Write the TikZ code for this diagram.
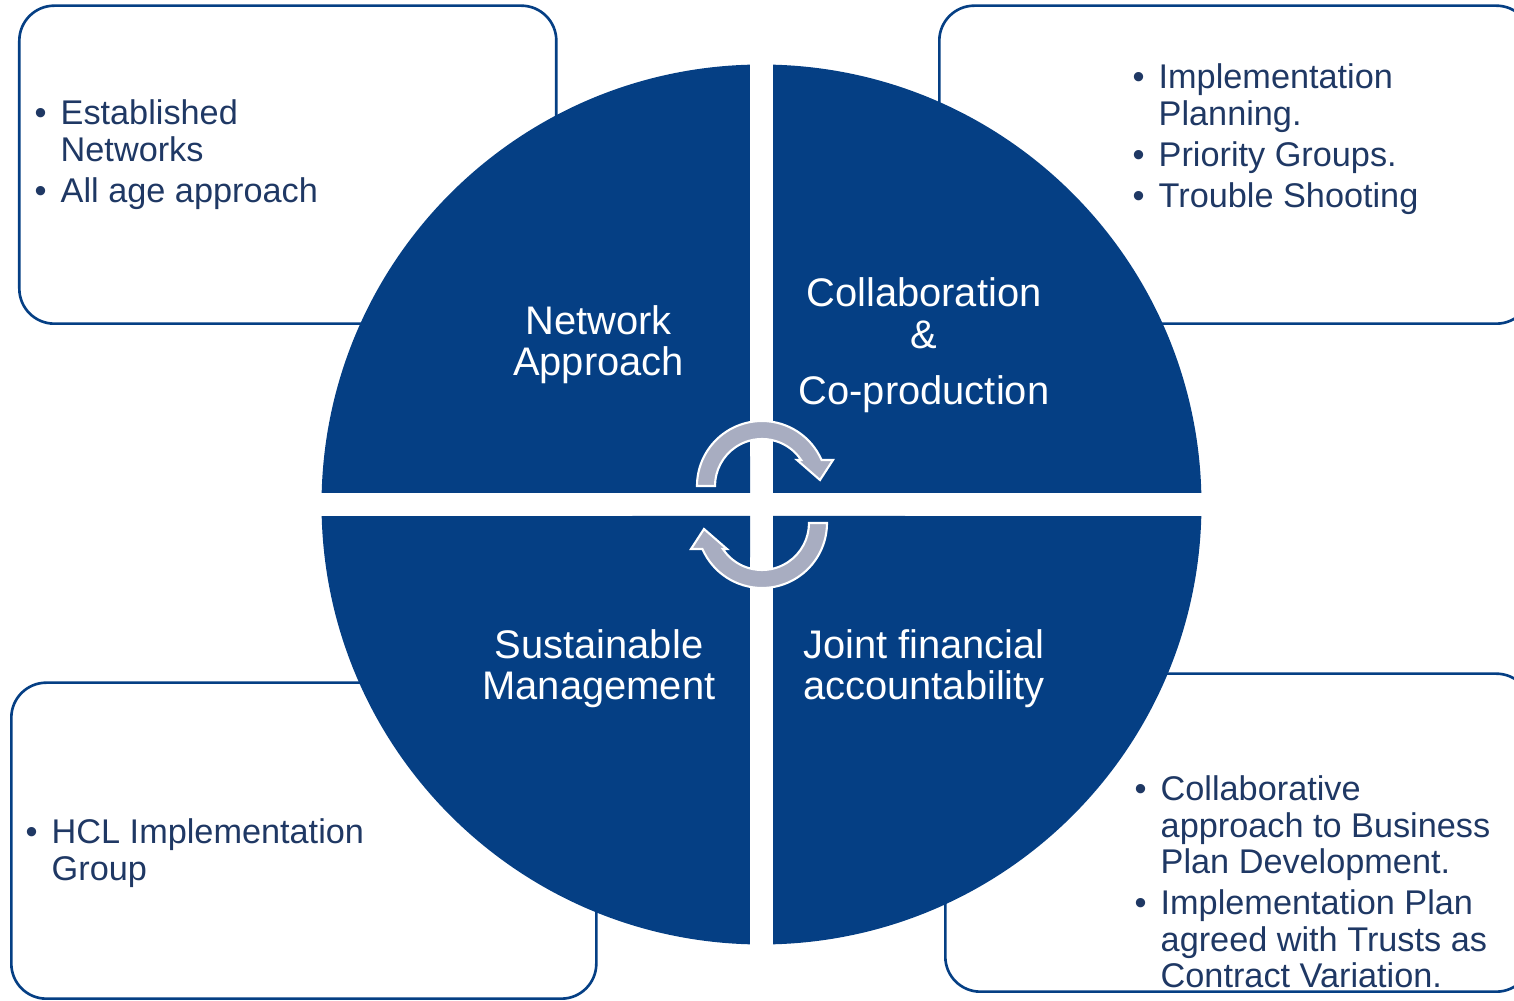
\documentclass[tikz,border=0pt]{standalone}
\usepackage{fontspec}
\setmainfont{Liberation Sans}
\definecolor{quadblue}{HTML}{053F84}
\definecolor{notetext}{HTML}{1F3864}
\definecolor{arrowgrey}{HTML}{A8ADC1}
\begin{document}
\begin{tikzpicture}[
  notebox/.style={draw=quadblue, line width=0.75pt, rounded corners=0.35cm, anchor=south west, inner sep=0pt},
  notetext/.style={anchor=base west, inner sep=0pt, text=notetext, font=\fontsize{9.75}{10.35}\selectfont},
  quad/.style={fill=quadblue},
  quadtext/.style={anchor=base, inner sep=0pt, align=center, text=white, font=\fontsize{11.35}{11.7}\selectfont},
  cycarrow/.style={fill=arrowgrey, draw=white, line width=0.6pt}]
\useasboundingbox (0,0) rectangle (15.14,10.01);
\clip (0,0) rectangle (15.14,10.01);
% corner boxes (behind the circle)
\node[notebox, minimum width=5.37cm, minimum height=3.18cm] (tlbox) at (0.18,6.76) {};
\node[notebox, minimum width=5.92cm, minimum height=3.18cm] (trbox) at (9.38,6.76) {};
\node[notebox, minimum width=5.85cm, minimum height=3.16cm] (blbox) at (0.10,0.01) {};
\node[notebox, minimum width=5.86cm, minimum height=3.18cm] (brbox) at (9.44,0.08) {};
% four quadrants
\begin{scope}[shift={(7.615,4.965)}]
\foreach \a in {0,90,180,270}
  \fill[quad, rotate=\a] (0.115,0.115) -- (88.5:4.4) arc[start angle=88.5, end angle=1.5, radius=4.4] -- cycle;
\end{scope}
% cycle arrows
\begin{scope}[shift={(7.62,5.15)}]
\draw[cycarrow] (180:0.65) arc[start angle=180, end angle=23.6, radius=0.65] -- (0.71,0.26) -- (0.58,0.06) -- (0.35,0.26) -- (33.6:0.47) arc[start angle=33.6, end angle=180, radius=0.47] -- cycle;
\end{scope}
\begin{scope}[shift={(7.62,4.78)}, rotate=180]
\draw[cycarrow] (180:0.65) arc[start angle=180, end angle=23.6, radius=0.65] -- (0.71,0.26) -- (0.58,0.06) -- (0.35,0.26) -- (33.6:0.47) arc[start angle=33.6, end angle=180, radius=0.47] -- cycle;
\end{scope}
% quadrant labels (anchored at the last line)
\node[quadtext] (network) at (5.985,6.25) {Network\\Approach};
\node[quadtext] (collab) at (9.24,5.96) {Collaboration\\\&\\[4.5pt]Co-production};
\node[quadtext] (sustain) at (5.99,3.01) {Sustainable\\Management};
\node[quadtext] (joint) at (9.24,3.01) {Joint financial\\accountability};
% box notes
\node[notetext] (tlnote) at (0.34,8.76) {\begin{tabular}[t]{@{}l@{\hspace{0.14cm}}l@{}}
  \textbullet & Established\\ & Networks\\[1.3pt]
  \textbullet & All age approach\end{tabular}};
\node[notetext] (trnote) at (11.32,9.12) {\begin{tabular}[t]{@{}l@{\hspace{0.14cm}}l@{}}
  \textbullet & Implementation\\ & Planning.\\[1.3pt]
  \textbullet & Priority Groups.\\[1.3pt]
  \textbullet & Trouble Shooting\end{tabular}};
\node[notetext] (blnote) at (0.25,1.57) {\begin{tabular}[t]{@{}l@{\hspace{0.14cm}}l@{}}
  \textbullet & HCL Implementation\\ & Group\end{tabular}};
\node[notetext] (brnote) at (11.34,2.00) {\begin{tabular}[t]{@{}l@{\hspace{0.14cm}}l@{}}
  \textbullet & Collaborative\\ & approach to Business\\ & Plan Development.\\[1.3pt]
  \textbullet & Implementation Plan\\ & agreed with Trusts as\\ & Contract Variation.\end{tabular}};
\end{tikzpicture}
\end{document}
